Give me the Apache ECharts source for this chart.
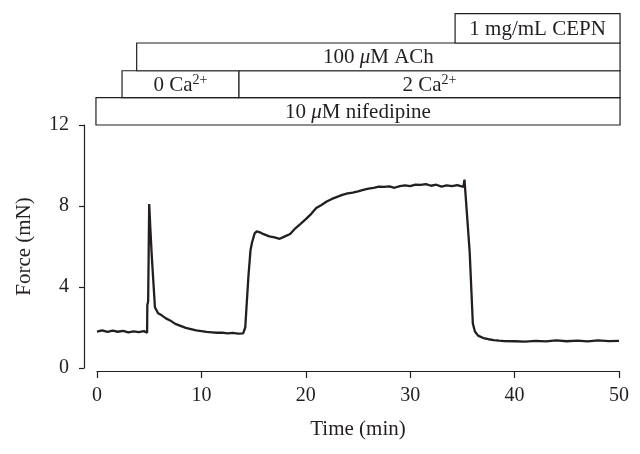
<!DOCTYPE html>
<html>
<head>
<meta charset="utf-8">
<script src="https://cdn.jsdelivr.net/npm/echarts@6/dist/echarts.min.js"></script>
<style>html,body{margin:0;padding:0;background:#fff}#c{width:640px;height:454px}</style>
</head>
<body>
<div id="c"></div>
<script>
// Trace data (time in min, force in mN)
var time  = [0,0.5,1,1.5,2,2.5,3,3.5,4,4.5,4.8,4.82,4.9,5.0,5.1,5.25,5.55,5.85,6.2,6.6,7,7.5,8,8.5,9,9.5,10,10.5,11,11.5,12,12.5,13,13.5,14.0,14.2,14.5,14.7,14.85,15.1,15.3,15.6,15.9,16.5,17,17.5,18,18.5,19,19.5,20,20.5,21,21.5,22,22.5,23,23.5,24,24.5,25,25.5,26,26.5,27,27.5,28,28.5,29,29.5,30,30.5,31,31.5,32,32.5,33,33.5,34,34.5,35.1,35.2,35.7,36.0,36.2,36.5,37,37.5,38,38.5,39,40,41,42,43,44,45,46,47,48,49,50];
var force = [1.80,1.86,1.78,1.84,1.79,1.83,1.76,1.81,1.77,1.82,1.74,3.1,3.3,8.1,7.0,5.5,3.0,2.7,2.6,2.45,2.35,2.18,2.08,1.98,1.92,1.86,1.82,1.78,1.76,1.74,1.75,1.71,1.73,1.70,1.71,2.0,4.5,5.8,6.2,6.65,6.75,6.7,6.62,6.5,6.45,6.38,6.5,6.62,6.9,7.12,7.35,7.6,7.9,8.05,8.22,8.35,8.45,8.55,8.62,8.66,8.72,8.8,8.86,8.9,8.96,8.94,8.97,8.9,8.98,9.02,8.98,9.06,9.04,9.08,9.0,9.05,8.96,9.02,8.98,9.03,8.95,9.3,5.7,2.2,1.8,1.6,1.48,1.42,1.38,1.35,1.33,1.32,1.3,1.34,1.31,1.36,1.32,1.35,1.31,1.36,1.33,1.34];

// Tick labels
var xTicks = [0,10,20,30,40,50];
var yTicks = [0,4,8,12];

// Treatment boxes (start/end in minutes, stacking row)
var boxLabels = ['10 {i|μ}M nifedipine','0 Ca{sup|2+}','2 Ca{sup|2+}','100 {i|μ}M ACh','1 mg/mL CEPN'];
var boxStart  = [-0.1, 2.4, 13.6, 3.8, 34.3];
var boxEnd    = [50.1, 13.6, 50.1, 50.1, 50.1];
var boxRow    = [0, 1, 1, 2, 3];

var FONT = '"Liberation Serif", "DejaVu Serif", serif';
var INK = '#231f20';
var rowEdges = [12, 13.35, 14.68, 16.05, 17.5];

var chart = echarts.init(document.getElementById('c'));
var lineData = time.map(function(t,i){return [t, force[i]];});
var boxData = boxStart.map(function(s,i){return [s, boxEnd[i], boxRow[i], i];});

chart.setOption({
  animation: false,
  backgroundColor: '#fff',
  grid: {left: 97, right: 21, top: 125, bottom: 86},
  xAxis: {
    type: 'value', min: 0, max: 50, interval: 10, offset: 3,
    name: 'Time (min)', nameLocation: 'middle', nameGap: 48,
    nameTextStyle: {fontFamily: FONT, fontSize: 21, color: INK},
    axisLine: {show: true, onZero: false, lineStyle: {color: INK, width: 1.2}},
    axisTick: {show: true, length: 7, lineStyle: {color: INK, width: 1.2}},
    axisLabel: {fontFamily: FONT, fontSize: 20, color: INK, margin: 15,
      formatter: function(v){return xTicks.indexOf(v) >= 0 ? String(v) : '';}},
    splitLine: {show: false}
  },
  yAxis: {
    type: 'value', min: 0, max: 12, interval: 4, offset: 13,
    name: 'Force (mN)', nameLocation: 'middle', nameGap: 49,
    nameTextStyle: {fontFamily: FONT, fontSize: 21, color: INK},
    axisLine: {show: true, onZero: false, lineStyle: {color: INK, width: 1.2}},
    axisTick: {show: true, length: 5, lineStyle: {color: INK, width: 1.2}},
    axisLabel: {fontFamily: FONT, fontSize: 20, color: INK, margin: 15,
      formatter: function(v){return yTicks.indexOf(v) >= 0 ? String(v) : '';}},
    splitLine: {show: false}
  },
  series: [
    {
      type: 'line', data: lineData, showSymbol: false, symbol: 'none',
      lineStyle: {color: INK, width: 2.3}, z: 3
    },
    {
      type: 'custom', clip: false, data: boxData, z: 4,
      renderItem: function(params, api){
        var s = api.value(0), e = api.value(1), r = api.value(2), idx = api.value(3);
        var p0 = api.coord([s, rowEdges[r+1]]);
        var p1 = api.coord([e, rowEdges[r]]);
        return {
          type: 'group',
          children: [
            {type: 'rect', shape: {x: p0[0], y: p0[1], width: p1[0]-p0[0], height: p1[1]-p0[1]},
             style: {fill: '#fff', stroke: INK, lineWidth: 1.2}},
            {type: 'text', style: {
              text: boxLabels[idx], x: (p0[0]+p1[0])/2, y: (p0[1]+p1[1])/2 + 1,
              align: 'center', verticalAlign: 'middle',
              fontFamily: FONT, fontSize: 21, fill: INK,
              rich: {
                i: {fontFamily: FONT, fontSize: 21, fontStyle: 'italic', fill: INK},
                sup: {fontFamily: FONT, fontSize: 14, fill: INK, padding: [0,0,10,0]}
              }
            }}
          ]
        };
      }
    }
  ]
});
</script>
</body>
</html>
